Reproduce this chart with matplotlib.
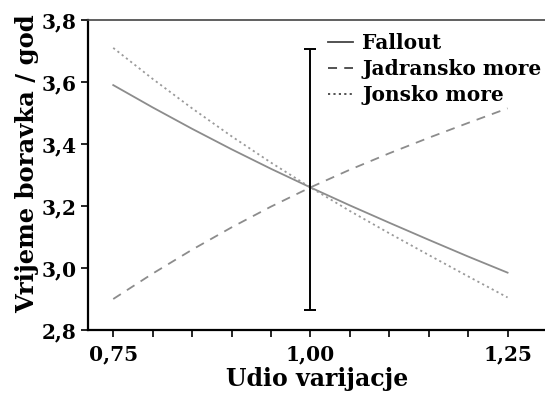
import matplotlib
matplotlib.use("Agg")
import matplotlib.pyplot as plt
from matplotlib.ticker import FuncFormatter, MultipleLocator

plt.rcParams["font.family"] = ["DejaVu Serif"]
plt.rcParams["font.weight"] = "bold"

# --- data ---
udio = [0.75, 0.80, 0.85, 0.90, 0.95, 1.00, 1.05, 1.10, 1.15, 1.20, 1.25]
fallout = [3.590, 3.518, 3.449, 3.383, 3.320, 3.260, 3.202, 3.146, 3.091, 3.037, 2.985]
jadran = [2.900, 2.982, 3.059, 3.131, 3.198, 3.260, 3.317, 3.370, 3.420, 3.468, 3.515]
jonsko = [3.710, 3.610, 3.515, 3.425, 3.340, 3.260, 3.184, 3.112, 3.042, 2.973, 2.905]
err_x, err_lo, err_hi = 1.00, 2.865, 3.705

fig = plt.figure(figsize=(5.45, 3.94), dpi=100)
ax = fig.add_axes([88 / 545, 64 / 394, 459 / 545, 310 / 394])

GREY = "#8c8c8c"
ax.plot(udio, fallout, color=GREY, lw=1.3, ls="-", label="Fallout")
ax.plot(udio, jadran, color=GREY, lw=1.3, ls=(0, (5, 4)), label="Jadransko more")
ax.plot(udio, jonsko, color="#9a9a9a", lw=1.3, ls=(0, (1.2, 1.8)), label="Jonsko more")

mid = (err_lo + err_hi) / 2
ax.errorbar([err_x], [mid], yerr=[[mid - err_lo], [err_hi - mid]],
            fmt="none", ecolor="black", elinewidth=1.4, capsize=4.5, capthick=1.4)

ax.set_xlim(0.718, 1.30)
ax.set_ylim(2.8, 3.8)
ax.set_xticks([0.75, 1.00, 1.25])
ax.xaxis.set_minor_locator(MultipleLocator(0.05))
ax.set_yticks([2.8, 3.0, 3.2, 3.4, 3.6, 3.8])
comma2 = FuncFormatter(lambda v, p: f"{v:.2f}".replace(".", ","))
comma1 = FuncFormatter(lambda v, p: f"{v:.1f}".replace(".", ","))
ax.xaxis.set_major_formatter(comma2)
ax.yaxis.set_major_formatter(comma1)
ax.tick_params(axis="both", which="both", direction="out", length=5, width=1.2,
               labelsize=14.5, pad=3)
ax.tick_params(axis="x", pad=5)

for s in ["left", "bottom"]:
    ax.spines[s].set_linewidth(1.6)
ax.spines["top"].set_linewidth(1.2)
ax.spines["top"].set_color("#444444")
ax.spines["right"].set_visible(False)

ax.set_xlabel("Udio varijacje", fontsize=17, fontweight="bold", labelpad=2)
ax.set_ylabel("Vrijeme boravka / god", fontsize=17.5, fontweight="bold",
              labelpad=2, y=0.537)

leg = ax.legend(loc="upper left", bbox_to_anchor=(0.505, 0.985), frameon=False,
                fontsize=14.5, handlelength=1.25, handletextpad=0.45,
                labelspacing=0.3, borderaxespad=0)
for h in leg.get_lines():
    h.set_color("#444444")

fig.savefig("out.png", dpi=100, facecolor="white")
